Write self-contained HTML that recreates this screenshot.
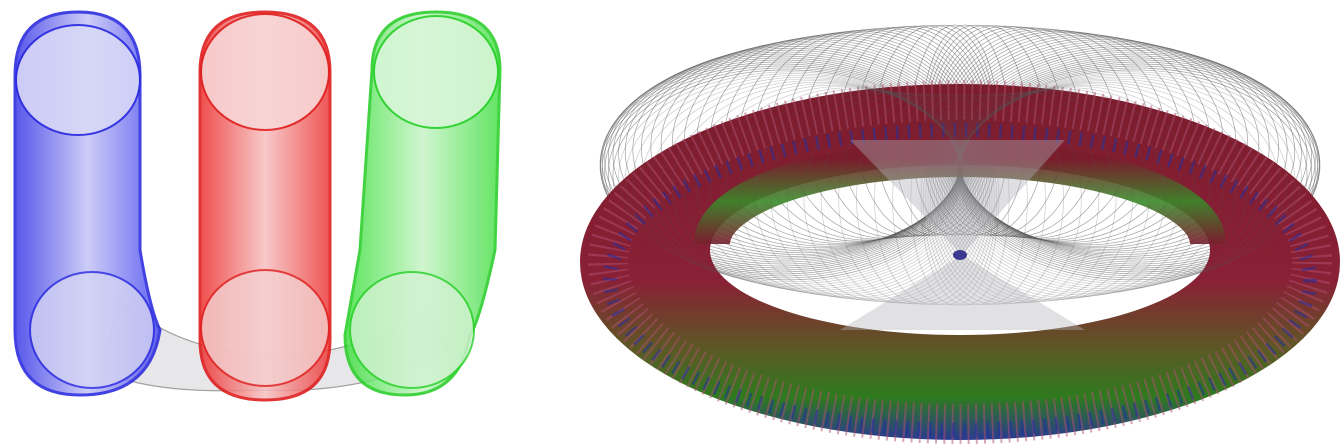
<!DOCTYPE html>
<html><head><meta charset="utf-8"><style>
html,body{margin:0;padding:0;background:#fff;}
svg{display:block;}
</style></head><body>
<svg width="1343" height="444" viewBox="0 0 1343 444">
<defs>
<linearGradient id="gb" x1="0" y1="0" x2="1" y2="0"><stop offset="0" stop-color="#3a3ae8"/><stop offset="0.5" stop-color="#c4c4f6"/><stop offset="1" stop-color="#4a4af0"/></linearGradient>
<linearGradient id="gr" x1="0" y1="0" x2="1" y2="0"><stop offset="0" stop-color="#ee3030"/><stop offset="0.5" stop-color="#f6c0c0"/><stop offset="1" stop-color="#ee3838"/></linearGradient>
<linearGradient id="gg" x1="0" y1="0" x2="1" y2="0"><stop offset="0" stop-color="#40e040"/><stop offset="0.5" stop-color="#c8f4c8"/><stop offset="1" stop-color="#48e048"/></linearGradient>
<linearGradient id="tor" x1="0" y1="0" x2="0" y2="1"><stop offset="0" stop-color="#7a1c2c"/><stop offset="0.55" stop-color="#8a2036"/><stop offset="0.75" stop-color="#5a5a24"/><stop offset="0.88" stop-color="#2e7a1e"/><stop offset="1" stop-color="#2a3a90"/></linearGradient>
<linearGradient id="inner" x1="0" y1="0" x2="0" y2="1"><stop offset="0" stop-color="#7a1c2c"/><stop offset="0.5" stop-color="#3a8a2a"/><stop offset="1" stop-color="#7a1c2c"/></linearGradient>
</defs>

<g>
<path d="M120 300 Q200 370 330 350 Q380 340 430 310 L450 350 Q370 395 260 390 Q150 395 100 370 Z" fill="#e2e2e6" stroke="#888" stroke-width="1.2" opacity="0.8"/>
</g>
<g>
<path d="M15 75 Q15 12 78 12 Q140 12 140 75 L140 250 Q150 310 160 330 Q150 395 80 395 Q15 395 15 330 Z" fill="url(#gb)" opacity="0.85" stroke="#2222dd" stroke-width="3"/>
<ellipse cx="78" cy="80" rx="62" ry="55" fill="#d8d8f8" stroke="#2a2ae0" stroke-width="2" opacity="0.9"/>
<ellipse cx="92" cy="330" rx="62" ry="58" fill="#d4d4f4" stroke="#2a2ae0" stroke-width="2" opacity="0.8"/>
</g>
<g>
<path d="M200 72 Q200 12 265 12 Q330 12 330 72 L330 340 Q330 400 265 400 Q200 400 200 340 Z" fill="url(#gr)" opacity="0.85" stroke="#dd1111" stroke-width="3"/>
<ellipse cx="265" cy="72" rx="64" ry="58" fill="#f8d6d6" stroke="#e02020" stroke-width="2" opacity="0.9"/>
<ellipse cx="265" cy="328" rx="64" ry="58" fill="#f4d0d0" stroke="#e02020" stroke-width="2" opacity="0.8"/>
</g>
<g>
<path d="M372 70 Q372 12 436 12 Q500 12 500 70 L495 250 Q480 320 470 335 Q460 395 405 395 Q345 395 345 335 L360 250 Z" fill="url(#gg)" opacity="0.85" stroke="#22cc22" stroke-width="3"/>
<ellipse cx="436" cy="72" rx="62" ry="56" fill="#d8f6d8" stroke="#28d028" stroke-width="2" opacity="0.9"/>
<ellipse cx="412" cy="330" rx="62" ry="58" fill="#d2f2d2" stroke="#28d028" stroke-width="2" opacity="0.8"/>
</g>

<g id="wires"></g>
<g>
<path d="M580 262 A380 178 0 1 0 1340 262 A380 178 0 1 0 580 262 Z M710 250 A250 85 0 1 1 1210 250 A250 85 0 1 1 710 250 Z" fill="url(#tor)" fill-rule="evenodd"/>
<path d="M712 250 A248 85 0 1 1 1208 250" fill="none" stroke="url(#inner)" stroke-width="36" transform="translate(0,-6)" opacity="0.9"/>
<ellipse cx="960" cy="262" rx="352" ry="162" fill="none" stroke="#b05070" stroke-width="40" stroke-dasharray="2 6" opacity="0.5"/>
<ellipse cx="960" cy="280" rx="350" ry="150" fill="none" stroke="#2030a0" stroke-width="14" stroke-dasharray="2.5 9" opacity="0.55"/>
</g>
<g id="wiresFront"></g>
<g>
<path d="M850 140 L1065 140 L962 255 Z" fill="#b0b0b8" opacity="0.4"/>
<path d="M962 255 L840 330 L1085 330 Z" fill="#b4b4bc" opacity="0.4"/>
<ellipse cx="960" cy="255" rx="7" ry="5" fill="#3a3a90"/>
</g>
<script>
var ns='http://www.w3.org/2000/svg';
var back=document.getElementById('wires');
var front=document.getElementById('wiresFront');
for(var i=0;i<110;i++){
  var t=i/110*Math.PI*2;
  var cx=960+180*Math.cos(t), cy=165+35*Math.sin(t);
  var e=document.createElementNS(ns,'ellipse');
  
  
  e.setAttribute('cx',cx);e.setAttribute('cy',cy);
  e.setAttribute('rx',40+140*Math.abs(Math.cos(t)));e.setAttribute('ry',105);
  e.setAttribute('fill','none');e.setAttribute('stroke','#555');
  e.setAttribute('stroke-width','0.7');
  if(Math.sin(t)>0.3){e.setAttribute('opacity','0.3');front.appendChild(e);}
  else{e.setAttribute('opacity','0.55');back.appendChild(e);}
}
</script>
</svg>
</body></html>
